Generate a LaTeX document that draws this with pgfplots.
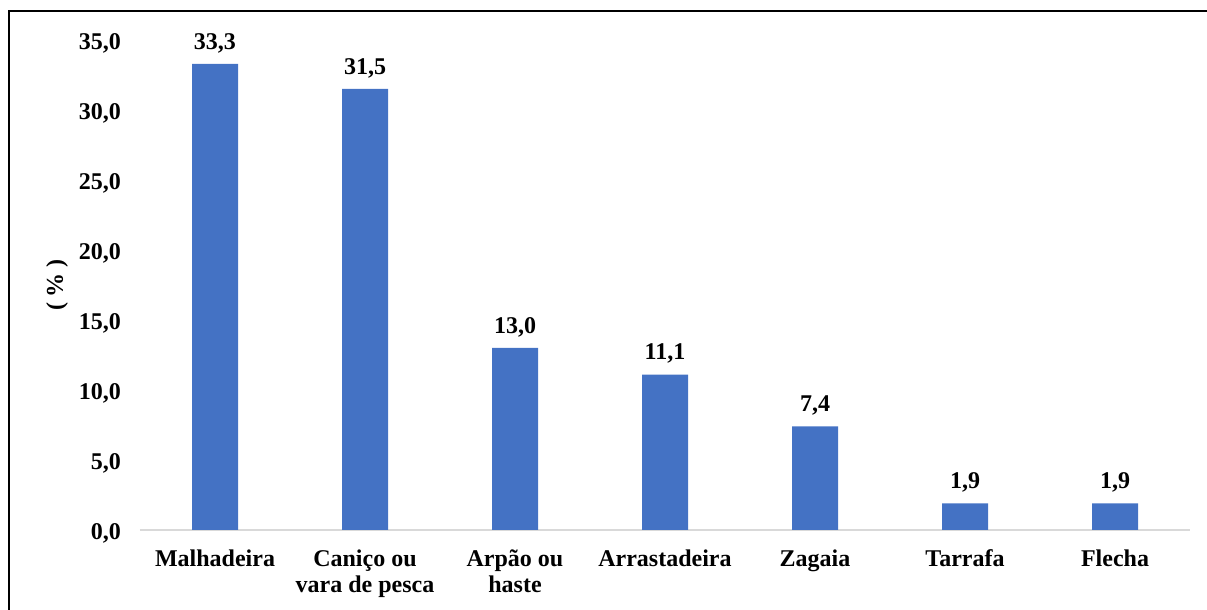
\documentclass[border=0pt]{standalone}
\usepackage{fontspec}
\setmainfont{Liberation Serif}
\usepackage{pgfplots}
\pgfplotsset{compat=1.18}
\definecolor{barblue}{HTML}{4472C4}
\definecolor{axgray}{HTML}{D9D9D9}
\begin{document}
\begin{tikzpicture}
\useasboundingbox (0,0) rectangle (603.5pt,305pt);
\draw[line width=1pt,black] (4.5pt,-2pt) -- (4.5pt,299.5pt) -- (606pt,299.5pt);
\begin{axis}[
  at={(70pt,40pt)}, anchor=south west,
  scale only axis, width=525pt, height=245pt,
  xmin=-0.5, xmax=6.5, ymin=0, ymax=35,
  axis x line*=bottom, axis y line*=left,
  x axis line style={draw=axgray, line width=1pt, -},
  y axis line style={draw=none},
  ytick={0,5,...,35},
  yticklabel style={font=\bfseries\fontsize{12}{14}\selectfont, xshift=-6pt, yshift=-1.5pt, /pgf/number format/.cd, fixed, fixed zerofill, precision=1, use comma, assume math mode=true},
  xtick={0,...,6},
  xticklabels={Malhadeira, {Caniço ou\\vara de pesca}, {Arpão ou\\haste}, Arrastadeira, Zagaia, Tarrafa, Flecha},
  xticklabel style={font=\bfseries\fontsize{12}{13}\selectfont, align=center, anchor=north, yshift=-6.5pt},
  major tick length=0pt,
  tick style={draw=none},
  ylabel={( \% )},
  ylabel style={font=\bfseries\fontsize{12}{14}\selectfont, at={(axis description cs:-0.079,0.5)}, anchor=center},
  nodes near coords,
  nodes near coords style={font=\bfseries\fontsize{12}{14}\selectfont, anchor=south, yshift=2pt, /pgf/number format/.cd, fixed, fixed zerofill, precision=1, use comma, assume math mode=true},
  clip=false,
]
\addplot[ybar, bar width=23pt, fill=barblue, draw=none] coordinates {
(0,33.3) (1,31.5) (2,13.0) (3,11.1) (4,7.4) (5,1.9) (6,1.9)
};
\end{axis}
\end{tikzpicture}
\end{document}
